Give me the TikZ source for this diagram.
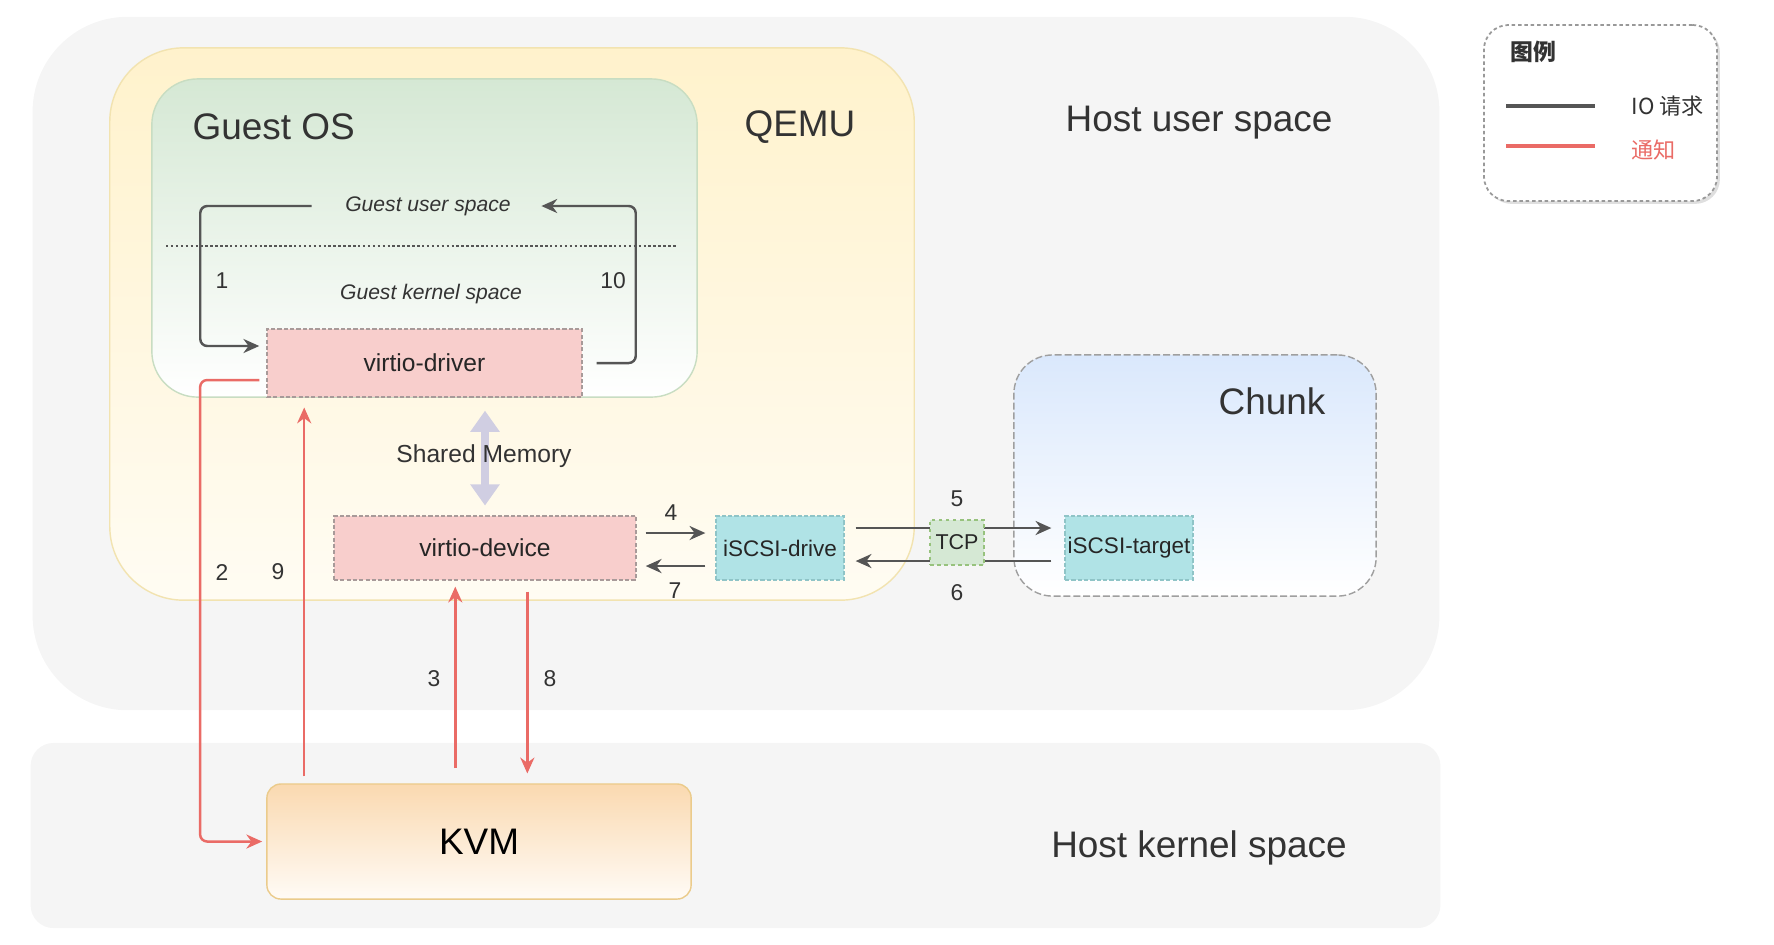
\documentclass[tikz,border=0pt]{standalone}
\usepackage{fontspec}
\setmainfont{Liberation Sans}
\newfontfamily\cjk{Noto Sans CJK SC}
\usetikzlibrary{arrows.meta, positioning, shadows}
\definecolor{hostgray}{HTML}{F5F5F5}
\definecolor{qemutop}{HTML}{FFF2CC}
\definecolor{qemubot}{HTML}{FFFCF3}
\definecolor{qemuline}{HTML}{F2E3B0}
\definecolor{guesttop}{HTML}{D5E8D4}
\definecolor{guestline}{HTML}{C8DDC2}
\definecolor{virtiored}{HTML}{F8CECC}
\definecolor{virtioline}{HTML}{A89A99}
\definecolor{iscsiteal}{HTML}{B0E3E6}
\definecolor{iscsiline}{HTML}{8FC4C7}
\definecolor{tcpgreen}{HTML}{D5E8D4}
\definecolor{tcpline}{HTML}{97C27D}
\definecolor{chunktop}{HTML}{DAE8FC}
\definecolor{kvmtop}{HTML}{FAD9B0}
\definecolor{kvmbot}{HTML}{FFFBF6}
\definecolor{kvmline}{HTML}{EBCB8B}
\definecolor{iogray}{HTML}{555555}
\definecolor{notifyred}{HTML}{EA6B66}
\definecolor{shmpurple}{HTML}{D0CEE2}
\definecolor{textgray}{HTML}{333333}

\begin{document}
\begin{tikzpicture}[x=0.01cm, y=-0.01cm,
  region/.style={fill=hostgray, inner sep=0pt},
  bigtext/.style={font=\fontsize{10.5}{12}\selectfont, text=textgray, inner sep=0pt},
  compbox/.style={draw, line width=0.35pt, dash pattern=on 1.2pt off 0.6pt, inner sep=0pt, font=\fontsize{7}{8}\selectfont, text=black!85},
  spacetext/.style={font=\itshape\fontsize{6}{7}\selectfont, text=textgray, inner sep=0pt},
  num/.style={font=\fontsize{6.5}{7}\selectfont, text=textgray, inner sep=0pt},
  io/.style={-{Stealth[length=4.5pt, width=4pt]}, iogray, line width=0.7pt},
  notify/.style={-{Stealth[length=4.5pt, width=4pt]}, notifyred, line width=0.7pt}
]
  \useasboundingbox (0,0) rectangle (1774,944);

  % Host spaces
  \node[region, rounded corners=27pt, minimum width=14.06cm, minimum height=6.93cm] (hostuser) at (736,363.5) {};
  \node[region, rounded corners=6.5pt, minimum width=14.09cm, minimum height=1.85cm] (hostkernel) at (735.5,835.5) {};
  \node[bigtext] (hostuserlabel) at (1199,123) {Host user space};
  \node[bigtext] (hostkernellabel) at (1199,848) {Host kernel space};

  % QEMU
  \node[draw=qemuline, top color=qemutop, bottom color=qemubot, rounded corners=21pt, minimum width=8.04cm, minimum height=5.52cm, inner sep=0pt] (qemu) at (512,324) {};
  \node[bigtext] (qemulabel) at (800,127) {QEMU};

  % Guest OS
  \node[draw=guestline, top color=guesttop, bottom color=white, rounded corners=13pt, minimum width=5.45cm, minimum height=3.18cm, inner sep=0pt] (guestos) at (424.5,238) {};
  \node[bigtext, anchor=west] (guestoslabel) at (192,127) {Guest OS};
  \draw[iogray, line width=0.6pt, dash pattern=on 0.7pt off 0.7pt] (166,246) -- (677,246);
  \node[spacetext] (gus) at (428,206) {Guest user space};
  \node[spacetext] (gks) at (431,294) {Guest kernel space};
  \node[num] (n1) at (222,281) {1};
  \node[num] (n10) at (613,281) {10};

  % Chunk
  \node[draw=gray!75, dash pattern=on 2pt off 0.8pt, line width=0.4pt, top color=chunktop, bottom color=white, rounded corners=11pt, minimum width=3.62cm, minimum height=2.41cm, inner sep=0pt] (chunk) at (1195,475.5) {};
  \node[bigtext] (chunklabel) at (1272,401) {Chunk};

  % KVM
  \node[draw=kvmline, top color=kvmtop, bottom color=kvmbot, rounded corners=4pt, minimum width=4.24cm, minimum height=1.15cm, inner sep=0pt, font=\fontsize{10.5}{12}\selectfont] (kvm) at (479,841.5) {KVM};

  % components
  \node[compbox, draw=virtioline, fill=virtiored, minimum width=3.15cm, minimum height=0.68cm] (driver) at (424.5,363) {virtio-driver};
  \node[compbox, draw=virtioline, fill=virtiored, minimum width=3.02cm, minimum height=0.64cm] (device) at (485,548) {virtio-device};
  \node[compbox, draw=iscsiline, fill=iscsiteal, minimum width=1.28cm, minimum height=0.64cm, font=\fontsize{6.4}{7}\selectfont] (drive) at (780,548) {iSCSI-drive};
  \node[compbox, draw=iscsiline, fill=iscsiteal, minimum width=1.28cm, minimum height=0.64cm, font=\fontsize{6.4}{7}\selectfont] (target) at (1129,548) {iSCSI-target};

  % Shared memory
  \draw[{Triangle[length=6pt, width=8pt]}-{Triangle[length=6pt, width=8pt]}, shmpurple, line width=2.2pt, shorten <=3.7pt, shorten >=2.8pt] (device.north |- driver.south) -- (device.north);
  \node[font=\fontsize{7}{8}\selectfont, text=textgray, inner sep=0pt] (shmlabel) at (484,456) {Shared Memory};

  % IO requests
  \draw[io, rounded corners=2pt, shorten >=2pt] ([xshift=-0.33cm]gus.west) -| ([xshift=-0.66cm, yshift=0.17cm]driver.west) -- ([yshift=0.17cm]driver.west);
  \draw[io, rounded corners=2pt] ([xshift=0.14cm]driver.east) -| ([xshift=0.53cm]driver.east |- gus.east) -- ([xshift=0.3cm]gus.east);
  \draw[io] ([xshift=0.09cm, yshift=0.15cm]device.east) -- ([xshift=-0.1cm, yshift=0.15cm]drive.west);
  \draw[io] ([xshift=-0.1cm, yshift=-0.18cm]drive.west) -- ([xshift=0.09cm, yshift=-0.18cm]device.east);
  \draw[io] ([xshift=0.11cm, yshift=0.2cm]drive.east) -- ([xshift=-0.13cm, yshift=0.2cm]target.west);
  \draw[io] ([xshift=-0.13cm, yshift=-0.13cm]target.west) -- ([xshift=0.11cm, yshift=-0.13cm]drive.east);
  \node[compbox, draw=tcpline, fill=tcpgreen, dash pattern=on 1pt off 1pt, minimum width=0.54cm, minimum height=0.45cm, font=\fontsize{6.1}{7}\selectfont] (tcp) at (957,542.5) {TCP};
  \node[num] (n4) at (671,513) {4};
  \node[num] (n7) at (675,591) {7};
  \node[num] (n5) at (957,499) {5};
  \node[num] (n6) at (957,593) {6};

  % notifications
  \coordinate (k9) at ([xshift=0.38cm]kvm.north west);
  \coordinate (k3) at ([xshift=1.89cm]kvm.north west);
  \coordinate (k8) at ([xshift=2.61cm]kvm.north west);
  \draw[notify, rounded corners=2pt] ([xshift=-0.07cm, yshift=-0.17cm]driver.west) -| ([xshift=-0.66cm]kvm.west) -- ([xshift=-0.04cm]kvm.west);
  \draw[notify, shorten <=2pt, shorten >=2.8pt] (k9) -- (k9 |- driver.south);
  \draw[notify, shorten <=4.3pt, shorten >=1.7pt] (k3) -- (k3 |- device.south);
  \draw[notify, shorten <=3.1pt, shorten >=2.8pt] (k8 |- device.south) -- (k8);
  \node[num] (n2) at (222,572) {2};
  \node[num] (n9) at (278,572) {9};
  \node[num] (n3) at (434,679) {3};
  \node[num] (n8) at (550,679) {8};

  % legend
  \node[draw=gray!80, dash pattern=on 1pt off 0.8pt, line width=0.5pt, fill=white, rounded corners=7pt, minimum width=2.33cm, minimum height=1.76cm, inner sep=0pt, drop shadow={opacity=0.25, shadow xshift=0.8pt, shadow yshift=-0.8pt}] (legend) at (1600.5,113) {};
  \node[font=\cjk\bfseries\fontsize{6.5}{7}\selectfont, text=textgray, inner sep=0pt] (legendtitle) at (1533,52) {图例};
  \draw[iogray, line width=1pt] (1506,106) -- (1595,106);
  \draw[notifyred, line width=1pt] (1506,146) -- (1595,146);
  \node[font=\cjk\fontsize{6.3}{7}\selectfont, text=textgray, anchor=west, inner sep=0pt] (legendio) at (1631,106) {IO 请求};
  \node[font=\cjk\fontsize{6.3}{7}\selectfont, text=notifyred, anchor=west, inner sep=0pt] (legendnotify) at (1631,150) {通知};
\end{tikzpicture}
\end{document}
